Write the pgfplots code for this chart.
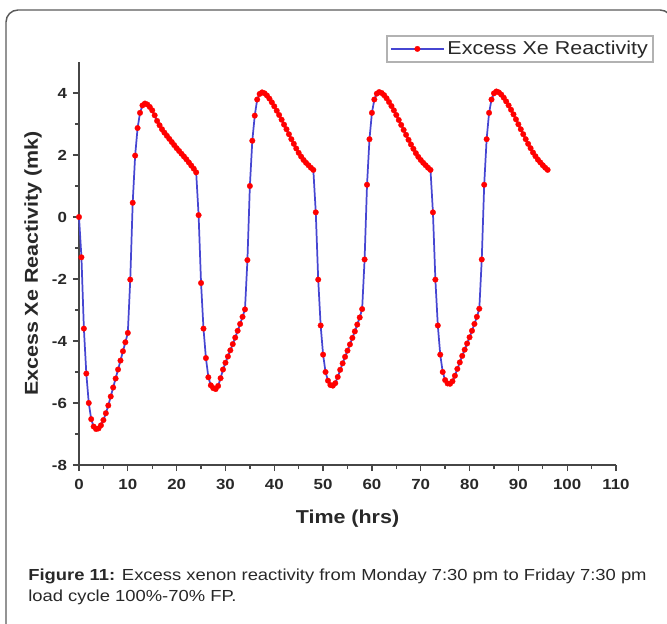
\documentclass[border=0pt]{standalone}
\usepackage{fontspec}
\setmainfont[FakeStretch=1.15]{Liberation Sans}
\usepackage{pgfplots}
\pgfplotsset{compat=1.18}

\definecolor{axiscol}{RGB}{70,70,70}
\definecolor{txtcol}{RGB}{40,40,40}
\definecolor{xeblue}{RGB}{70,70,210}
\definecolor{xered}{RGB}{255,0,0}
\definecolor{framecol}{RGB}{90,90,90}

\begin{document}
\begin{tikzpicture}[x=0.75pt,y=-0.75pt]
\path[use as bounding box] (0,0) rectangle (667,624);
% outer frame (cut by the page edge)
\draw[framecol, line width=1.1pt, rounded corners=9pt] (6,640) -- (6,10) -- (672,10) -- (672,640);

\begin{axis}[
    at={(59.25pt,-348.75pt)}, anchor=south west,
    scale only axis,
    width=402.75pt, height=302.25pt,
    xmin=0, xmax=110, ymin=-8, ymax=5,
    axis x line*=bottom, axis y line*=left,
    axis line style={-, draw=axiscol, line width=1.2pt},
    xtick={0,10,...,110},
    ytick={-8,-6,...,4},
    minor xtick={5,15,...,105},
    minor ytick={-7,-5,-3,-1,1,3},
    tick align=outside,
    major tick length=4.5pt, minor tick length=3pt,
    every tick/.style={draw=axiscol, line width=1pt},
    /pgf/number format/assume math mode=true,
    tick label style={font=\bfseries\fontsize{11}{13}\selectfont, text=txtcol},
    xticklabel style={yshift=-3pt},
    yticklabel style={xshift=-1pt},
    xlabel={Time (hrs)},
    ylabel={Excess Xe Reactivity (mk)},
    label style={font=\bfseries\fontsize{14}{16}\selectfont, text=txtcol},
    xlabel style={at={(axis description cs:0.5,-0.134)}, anchor=center},
    ylabel style={at={(axis description cs:-0.0857,0.5)}, anchor=center},
    legend style={at={(axis description cs:1.0708,1.067)}, anchor=north east,
        draw=gray!60, line width=1.2pt, fill=white,
        font=\fontsize{14}{16}\selectfont, text=txtcol,
        inner sep=2pt, row sep=0pt},
    legend image code/.code={
        \draw[mark repeat=2, mark phase=2] plot coordinates {(0cm,0cm) (0.7cm,0cm) (1.4cm,0cm)};
    },
    clip=false,
]
\addplot[color=xeblue, line width=1.3pt, mark=*, mark size=2.1pt,
    mark options={draw=xered, fill=xered, line width=0.2pt}]
coordinates {
(0,0) (0.5,-1.3) (1.0,-3.6) (1.5,-5.05) (2.0,-6.0) (2.5,-6.52) (3.0,-6.76) (3.5,-6.84)
(4.0,-6.82) (4.5,-6.72) (5.0,-6.55) (5.5,-6.33) (6.0,-6.08) (6.5,-5.79) (7.0,-5.5) (7.5,-5.21)
(8.0,-4.92) (8.5,-4.63) (9.0,-4.33) (9.5,-4.04) (10.0,-3.74) (10.5,-2.02) (11.0,0.46) (11.5,1.98)
(12.0,2.87) (12.5,3.36) (13.0,3.6) (13.5,3.66) (14.0,3.63) (14.5,3.55) (15.0,3.44) (15.5,3.28)
(16.0,3.1) (16.5,2.96) (17.0,2.83) (17.5,2.72) (18.0,2.62) (18.5,2.52) (19.0,2.42) (19.5,2.32)
(20.0,2.22) (20.5,2.13) (21.0,2.04) (21.5,1.95) (22.0,1.86) (22.5,1.76) (23.0,1.66) (23.5,1.56)
(24.0,1.44) (24.5,0.06) (25.0,-2.13) (25.5,-3.6) (26.0,-4.55) (26.5,-5.17) (27.0,-5.43) (27.5,-5.52)
(28.0,-5.55) (28.5,-5.45) (29.0,-5.2) (29.5,-4.92) (30.0,-4.7) (30.5,-4.5) (31.0,-4.3) (31.5,-4.1)
(32.0,-3.89) (32.5,-3.67) (33.0,-3.45) (33.5,-3.22) (34.0,-2.98) (34.5,-1.39) (35.0,1.0) (35.5,2.46)
(36.0,3.27) (36.5,3.79) (37.0,3.97) (37.5,4.02) (38.0,3.99) (38.5,3.92) (39.0,3.82) (39.5,3.7)
(40.0,3.57) (40.5,3.43) (41.0,3.29) (41.5,3.14) (42.0,2.98) (42.5,2.83) (43.0,2.67) (43.5,2.51)
(44.0,2.36) (44.5,2.21) (45.0,2.07) (45.5,1.95) (46.0,1.84) (46.5,1.75) (47.0,1.67) (47.5,1.59)
(48.0,1.52) (48.5,0.15) (49.0,-2.02) (49.5,-3.5) (50.0,-4.44) (50.5,-5.0) (51.0,-5.28) (51.5,-5.42)
(52.0,-5.44) (52.5,-5.36) (53.0,-5.16) (53.5,-4.93) (54.0,-4.72) (54.5,-4.51) (55.0,-4.31) (55.5,-4.11)
(56.0,-3.9) (56.5,-3.69) (57.0,-3.47) (57.5,-3.24) (58.0,-2.97) (58.5,-1.37) (59.0,1.04) (59.5,2.51)
(60.0,3.36) (60.5,3.79) (61.0,3.98) (61.5,4.03) (62.0,4.0) (62.5,3.93) (63.0,3.83) (63.5,3.71)
(64.0,3.58) (64.5,3.44) (65.0,3.29) (65.5,3.13) (66.0,2.97) (66.5,2.81) (67.0,2.65) (67.5,2.49)
(68.0,2.34) (68.5,2.2) (69.0,2.06) (69.5,1.94) (70.0,1.84) (70.5,1.75) (71.0,1.67) (71.5,1.59)
(72.0,1.52) (72.5,0.15) (73.0,-2.02) (73.5,-3.5) (74.0,-4.44) (74.5,-5.0) (75.0,-5.26) (75.5,-5.37)
(76.0,-5.38) (76.5,-5.3) (77.0,-5.12) (77.5,-4.9) (78.0,-4.69) (78.5,-4.48) (79.0,-4.28) (79.5,-4.08)
(80.0,-3.88) (80.5,-3.67) (81.0,-3.45) (81.5,-3.22) (82.0,-2.96) (82.5,-1.37) (83.0,1.04) (83.5,2.51)
(84.0,3.36) (84.5,3.79) (85.0,3.99) (85.5,4.05) (86.0,4.02) (86.5,3.95) (87.0,3.85) (87.5,3.73)
(88.0,3.6) (88.5,3.46) (89.0,3.31) (89.5,3.15) (90.0,2.99) (90.5,2.83) (91.0,2.67) (91.5,2.51)
(92.0,2.36) (92.5,2.22) (93.0,2.08) (93.5,1.96) (94.0,1.85) (94.5,1.76) (95.0,1.67) (95.5,1.59)
(96.0,1.52)
};
\addlegendentry{Excess Xe Reactivity}
\end{axis}

% caption
\node[anchor=base west, inner sep=0pt, text=txtcol, font=\fontsize{12}{14}\selectfont]
    at (28,580) {\textbf{Figure 11:} Excess xenon reactivity from Monday 7:30 pm to Friday 7:30 pm};
\node[anchor=base west, inner sep=0pt, text=txtcol, font=\fontsize{12}{14}\selectfont]
    at (28,601) {load cycle 100\%-70\% FP.};
\end{tikzpicture}
\end{document}
